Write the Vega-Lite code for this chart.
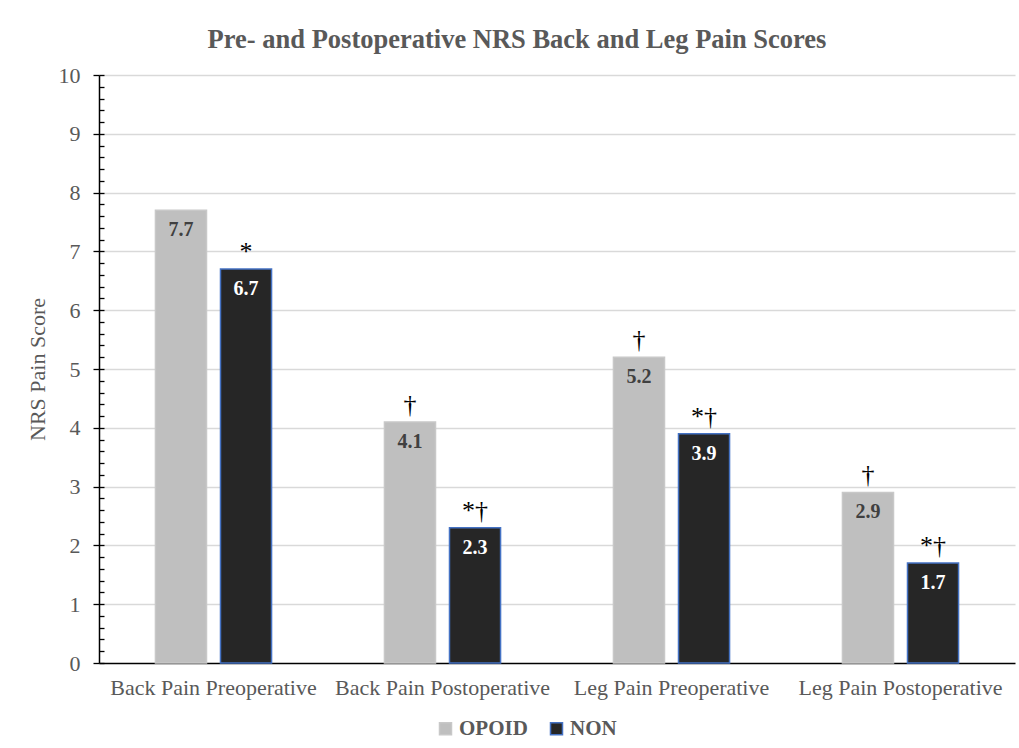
{
  "$schema": "https://vega.github.io/schema/vega-lite/v6.json",
  "width": 916,
  "height": 588,
  "autosize": {"type": "none"},
  "padding": {"left": 99, "top": 75, "right": 4, "bottom": 85},
  "background": "white",
  "title": {
    "text": "Pre- and Postoperative NRS Back and Leg Pain Scores",
    "font": "Liberation Serif",
    "fontSize": 26.5,
    "fontWeight": "bold",
    "color": "#595959",
    "anchor": "middle",
    "dx": -40,
    "offset": 11
  },
  "data": {
    "values": [
      {"category": "Back Pain Preoperative", "group": "OPOID", "value": 7.7, "label": "7.7", "mark": ""},
      {"category": "Back Pain Preoperative", "group": "NON", "value": 6.7, "label": "6.7", "mark": "*"},
      {"category": "Back Pain Postoperative", "group": "OPOID", "value": 4.1, "label": "4.1", "mark": "†"},
      {"category": "Back Pain Postoperative", "group": "NON", "value": 2.3, "label": "2.3", "mark": "*†"},
      {"category": "Leg Pain Preoperative", "group": "OPOID", "value": 5.2, "label": "5.2", "mark": "†"},
      {"category": "Leg Pain Preoperative", "group": "NON", "value": 3.9, "label": "3.9", "mark": "*†"},
      {"category": "Leg Pain Postoperative", "group": "OPOID", "value": 2.9, "label": "2.9", "mark": "†"},
      {"category": "Leg Pain Postoperative", "group": "NON", "value": 1.7, "label": "1.7", "mark": "*†"}
    ]
  },
  "encoding": {
    "x": {
      "field": "category",
      "type": "nominal",
      "sort": ["Back Pain Preoperative", "Back Pain Postoperative", "Leg Pain Preoperative", "Leg Pain Postoperative"],
      "scale": {"paddingInner": 0.493, "paddingOuter": 0.2465},
      "axis": {
        "title": null,
        "labelAngle": 0,
        "labelFont": "Liberation Serif",
        "labelFontSize": 22,
        "labelColor": "#595959",
        "labelPadding": 14,
        "labelLimit": 0,
        "ticks": false,
        "domainColor": "#000000",
        "domainWidth": 1.5,
        "grid": false
      }
    },
    "xOffset": {
      "field": "group",
      "type": "nominal",
      "sort": ["OPOID", "NON"],
      "scale": {"paddingInner": 0.215, "paddingOuter": 0}
    },
    "y": {
      "field": "value",
      "type": "quantitative",
      "scale": {"domain": [0, 10], "nice": false},
      "axis": {
        "title": "NRS Pain Score",
        "titleFont": "Liberation Serif",
        "titleFontSize": 22,
        "titleFontWeight": "normal",
        "titleColor": "#595959",
        "titlePadding": 9,
        "values": [0, 0.001, 0.2, 0.4, 0.6, 0.8, 1, 1.001, 1.2, 1.4, 1.6, 1.8, 2, 2.001, 2.2, 2.4, 2.6, 2.8, 3, 3.001, 3.2, 3.4, 3.6, 3.8, 4, 4.001, 4.2, 4.4, 4.6, 4.8, 5, 5.001, 5.2, 5.4, 5.6, 5.8, 6, 6.001, 6.2, 6.4, 6.6, 6.8, 7, 7.001, 7.2, 7.4, 7.6, 7.8, 8, 8.001, 8.2, 8.4, 8.6, 8.8, 9, 9.001, 9.2, 9.4, 9.6, 9.8, 9.999, 10],
        "labelExpr": "datum.value % 1 === 0 ? format(datum.value, 'd') : ''",
        "labelOverlap": false,
        "labelFont": "Liberation Serif",
        "labelFontSize": 22,
        "labelColor": "#595959",
        "labelPadding": 13,
        "tickColor": "#000000",
        "tickWidth": 1.3,
        "tickSize": {"condition": {"test": "datum.value % 1 === 0", "value": 6}, "value": -5},
        "domainColor": "#000000",
        "domainWidth": 1.5,
        "grid": true,
        "gridColor": "#d9d9d9",
        "gridWidth": 1.5,
        "gridOpacity": {"condition": {"test": "datum.value % 1 === 0 && datum.value > 0", "value": 1}, "value": 0}
      }
    }
  },
  "layer": [
    {
      "mark": {"type": "bar", "strokeWidth": 1.5},
      "encoding": {
        "color": {
          "field": "group",
          "type": "nominal",
          "sort": ["OPOID", "NON"],
          "scale": {"domain": ["OPOID", "NON"], "range": ["#bfbfbf", "#262626"]},
          "legend": {
            "title": null,
            "orient": "none",
            "legendX": 336,
            "legendY": 643,
            "direction": "horizontal",
            "symbolType": "square",
            "symbolSize": 144,
            "symbolOpacity": 1,
            "labelFont": "Liberation Serif",
            "labelFontSize": 21,
            "labelFontWeight": "bold",
            "labelColor": "#595959",
            "labelOffset": 3,
            "columnPadding": 18
          }
        },
        "stroke": {
          "field": "group",
          "type": "nominal",
          "sort": ["OPOID", "NON"],
          "scale": {"domain": ["OPOID", "NON"], "range": ["#c8c8c8", "#4472c4"]},
          "legend": null
        }
      }
    },
    {
      "mark": {"type": "text", "baseline": "top", "dy": 10, "font": "Liberation Serif", "fontSize": 20, "fontWeight": "bold"},
      "encoding": {
        "text": {"field": "label"},
        "color": {"condition": {"test": "datum.group === 'NON'", "value": "#ffffff"}, "value": "#404040"}
      }
    },
    {
      "mark": {"type": "text", "baseline": "bottom", "dy": -4, "font": "Liberation Serif", "fontSize": 26, "color": "#000000"},
      "encoding": {
        "text": {"field": "mark"}
      }
    }
  ],
  "config": {
    "view": {"stroke": null}
  }
}
